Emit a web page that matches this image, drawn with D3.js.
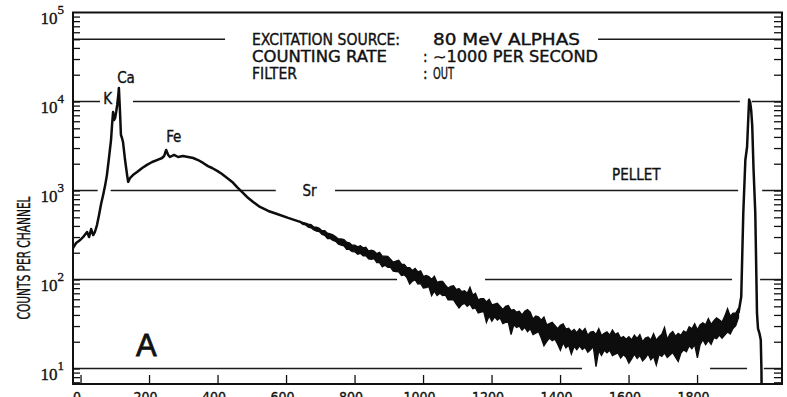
<!DOCTYPE html>
<html>
<head>
<meta charset="utf-8">
<script src="https://cdn.jsdelivr.net/npm/d3@7/dist/d3.min.js"></script>
<style>
  html, body { margin: 0; padding: 0; background: #fff; }
  svg { display: block; }
  text { font-family: 'DejaVu Sans Condensed', 'DejaVu Sans', sans-serif; font-stretch: condensed; fill: #111; stroke: #111; stroke-width: 0.35px; }
</style>
</head>
<body>
<svg id="chart" width="787" height="397"></svg>
<script>
// ---- Spectrum data: channel number and counts per channel ----
// Low-energy region: K and Ca lines, Fe hump, down to the start of the noisy continuum
const lowChannels = [-22, -13, -1, 10, 19, 25, 31, 37, 42, 48, 54, 60, 66, 72, 77, 83, 89, 92, 95, 98,
  101, 104, 107, 110, 112, 115, 118, 121, 124, 130, 136, 139, 145, 153, 165, 180, 194, 209, 223, 238,
  244, 250, 256, 261, 273, 285, 299, 314, 329, 343, 358, 372, 384, 399, 413, 428, 443, 457, 472, 486,
  504, 524, 548, 574, 606, 641];
const lowCounts = [226, 257, 278, 308, 342, 300, 369, 316, 342, 409, 530, 706, 890, 1150, 1490, 2320, 3690, 5440, 7620, 6200,
  6530, 7620, 9140, 11530, 14200, 8020, 4210, 3890, 3510, 2200, 1490, 1250, 1390, 1490, 1610, 1790, 1940, 2090, 2200, 2320,
  2440, 2850, 2510, 2380, 2510, 2380, 2440, 2380, 2320, 2200, 2040, 1880, 1790, 1660, 1530, 1380, 1250, 1090, 961, 846,
  743, 653, 589, 545, 492, 444];

// Noisy continuum: upper and lower edge of the trace, every 8 channels from channel 641
const continuumFirstChannel = 641;
const continuumChannelStep = 8;
const continuumHigh = [
  449, 438, 431, 420, 413, 389, 388, 377, 354, 353,
  332, 325, 317, 303, 286, 286, 281, 263, 258, 243,
  243, 233, 240, 227, 231, 209, 214, 209, 195, 202,
  183, 183, 182, 169, 157, 161, 165, 149, 148, 136,
  136, 126, 133, 122, 125, 108, 111, 108, 100, 109,
  93, 95, 95, 87, 80, 84, 85, 77, 79, 73,
  75, 70, 82, 67, 70, 59, 61, 61, 56, 60,
  52, 53, 54, 50, 46, 50, 51, 45, 46, 43,
  44, 40, 44, 46, 43, 36, 39, 38, 35, 38,
  31, 32, 33, 30.5, 28, 30.6, 31.8, 27.7, 28.4, 25.9,
  27.5, 25.3, 28, 25.9, 28.2, 23.7, 25.7, 26.1, 24.1, 28.1,
  23.5, 24.9, 25.8, 23.7, 27, 24.2, 25.2, 22, 22.9, 21.3,
  22.8, 21, 23.7, 21.8, 24.1, 20, 22, 22.6, 20.9, 24.7,
  20.8, 22.8, 24.3, 29, 21.3, 24.5, 26, 23.1, 24.9, 23.7,
  26.4, 25.2, 29.5, 28, 31.9, 27.3, 31.1, 32.7, 31, 36.4,
  31.4, 34.5, 37.1, 35.2, 33.4, 38.8, 47, 38.7, 41.8, 42,
  47.8];
const continuumLow = [
  439, 417, 411, 388, 381, 361, 349, 345, 320, 313,
  289, 290, 275, 268, 249, 243, 239, 218, 218, 206,
  205, 192, 197, 185, 186, 171, 169, 172, 155, 155,
  139, 145, 137, 137, 124, 123, 122, 111, 113, 105,
  89, 96, 99, 89, 90, 80, 81, 83, 66, 74,
  66, 70, 66, 67, 59, 59, 59, 53, 48, 52,
  54, 50, 53, 47, 48, 42, 43, 44, 33, 39,
  34, 38, 35, 37, 32, 33, 33, 24, 31, 29,
  30, 27, 29, 26, 28, 24, 25, 26, 22, 18,
  20, 22, 20.5, 21.4, 18.8, 16, 19.5, 17, 18.2, 14.5,
  17.7, 16.3, 18, 16.3, 17.3, 15.2, 16.2, 17.6, 10.5, 15.9,
  14, 16, 15, 16, 14, 14.5, 15, 13.1, 14.3, 13.4,
  11.5, 12.8, 14.5, 13, 14, 12.2, 13.1, 14.6, 12.5, 13.6,
  10.9, 14.3, 13.7, 15, 13.3, 14.2, 15.1, 13.4, 12, 14.9,
  16.2, 15.4, 18, 16.7, 18.5, 13.2, 18.5, 21.1, 18.5, 20.7,
  18.7, 22.2, 21.6, 23.7, 21.9, 23.8, 25.7, 24.4, 28.2, 30.3,
  37.4];

// Pellet peak
const pelletChannels = [1921, 1929, 1935, 1941, 1946, 1950, 1952, 1955, 1958, 1961, 1965, 1970, 1975, 1978, 1982, 1986, 1988, 1990];
const pelletCounts = [42, 64, 558, 2200, 3080, 7050, 10500, 9800, 8000, 5440, 1700, 558, 42, 28, 25, 21, 9.6, 1];

// Axis ticks
const channelTicks = [0, 200, 400, 600, 800, 1000, 1200, 1400, 1600, 1800];
const decadeTicks = [1e1, 1e2, 1e3, 1e4, 1e5];
const decadeExponents = ["1", "2", "3", "4", "5"];

// Horizontal reference rules: level and the channel spans they are drawn over
const ruleLevels = [5e4, 1e4, 1e3, 1e2, 1e1];
const ruleSpans = [
  [[-22, 422], [1511, 2048]],
  [[-22, 57], [153, 1925], [1960, 2048]],
  [[-22, 50], [88, 570], [743, 1920], [1990, 2048]],
  [[-22, 924], [1181, 1902], [1984, 2048]],
  [[-22, 1464], [1838, 1946], [1995, 2048]]
];

// Annotations
const headerRows = [
  { key: "EXCITATION SOURCE:", sep: "", value: "80 MeV ALPHAS" },
  { key: "COUNTING RATE", sep: ":", value: "\u223C1000  PER SECOND" },
  { key: "FILTER", sep: ":", value: "OUT" }
];
const peakLabels = [
  { text: "K", ch: 66, counts: 9300 },
  { text: "Ca", ch: 107, counts: 16000 },
  { text: "Fe", ch: 250, counts: 3500 },
  { text: "Sr", ch: 648, counts: 870 },
  { text: "PELLET", ch: 1552, counts: 1300 }
];

// ---- Build series ----
const lowSeries = lowChannels.map((c, i) => ({ ch: c, counts: lowCounts[i] }));
const continuumBand = continuumHigh.map((h, i) => ({
  ch: continuumFirstChannel + i * continuumChannelStep, high: h, low: continuumLow[i]
}));
const pelletSeries = pelletChannels.map((c, i) => ({ ch: c, counts: pelletCounts[i] }));

// ---- Layout ----
const plot = { left: 73, right: 782, top: 12.5, bottom: 384 };
const svg = d3.select("#chart");

const x = d3.scaleLinear().domain([-22, 2048]).range([plot.left, plot.right]);
const y = d3.scaleLog().domain([6.7, 1e5]).range([plot.bottom, plot.top]);

svg.append("defs").append("clipPath").attr("id", "plotClip")
  .append("rect")
  .attr("x", plot.left).attr("y", plot.top)
  .attr("width", plot.right - plot.left).attr("height", plot.bottom - plot.top);

// Horizontal rules
const rules = svg.append("g").attr("class", "rules");
ruleLevels.forEach((lvl, i) => {
  ruleSpans[i].forEach(span => {
    rules.append("line")
      .attr("x1", x(span[0])).attr("x2", x(span[1]))
      .attr("y1", y(lvl)).attr("y2", y(lvl))
      .attr("stroke", "#1a1a1a").attr("stroke-width", 1.5);
  });
});

// Minor tick values for the log axis
const logTicks = [];
for (let e = 0; e <= 4; e++) {
  for (let k = 1; k <= 9; k++) {
    const v = k * Math.pow(10, e);
    if (v >= 6.7 && v <= 1e5) logTicks.push(v);
  }
}

// Left and right inward ticks
svg.append("g")
  .attr("transform", `translate(${plot.left},0)`)
  .call(d3.axisLeft(y).tickValues(logTicks).tickSizeInner(-7).tickSizeOuter(0).tickFormat(""))
  .call(g => g.select(".domain").remove())
  .selectAll("line").attr("stroke", "#111").attr("stroke-width", 1.3);

svg.append("g")
  .attr("transform", `translate(${plot.right},0)`)
  .call(d3.axisRight(y).tickValues(logTicks).tickSizeInner(-8).tickSizeOuter(0).tickFormat(""))
  .call(g => g.select(".domain").remove())
  .selectAll("line").attr("stroke", "#111").attr("stroke-width", 1.3);

// Decade labels 10^n
const yLabels = svg.append("g").attr("class", "y-labels");
decadeTicks.forEach((v, i) => {
  const t = yLabels.append("text")
    .attr("x", 64)
    .attr("y", y(v) + 11)
    .attr("text-anchor", "end")
    .style("font-family", "'Liberation Serif', serif")
    .style("font-size", "17px");
  t.append("tspan").text("10");
  t.append("tspan").attr("dy", -10).style("font-size", "13px").text(decadeExponents[i]);
});

// Bottom axis: inward ticks, labels beneath
const xAxis = svg.append("g")
  .attr("transform", `translate(0,${plot.bottom})`)
  .call(d3.axisBottom(x).tickValues(channelTicks).tickFormat(d3.format("d"))
    .tickSizeInner(-9).tickSizeOuter(0).tickPadding(8))
  .call(g => g.select(".domain").remove());
xAxis.selectAll("line").attr("stroke", "#111").attr("stroke-width", 1.3);
xAxis.selectAll("text")
  .attr("dx", -4)
  .style("font-family", "'DejaVu Sans Condensed', 'DejaVu Sans', sans-serif")
  .style("font-size", "14px")
  .attr("fill", "#111");

// Spectrum trace
const traceLayer = svg.append("g").attr("clip-path", "url(#plotClip)");
const line = d3.line().x(d => x(d.ch)).y(d => y(d.counts));
const band = d3.area().x(d => x(d.ch)).y0(d => y(d.low)).y1(d => y(d.high));

traceLayer.append("path")
  .datum(continuumBand)
  .attr("d", band)
  .attr("fill", "#0d0d0d")
  .attr("stroke", "#0d0d0d")
  .attr("stroke-width", 1.3)
  .attr("stroke-linejoin", "miter");

[lowSeries, pelletSeries].forEach(series => {
  traceLayer.append("path")
    .datum(series)
    .attr("d", line)
    .attr("fill", "none")
    .attr("stroke", "#0d0d0d")
    .attr("stroke-width", 2.5)
    .attr("stroke-linejoin", "round");
});

// Frame
svg.append("rect")
  .attr("x", plot.left).attr("y", plot.top)
  .attr("width", plot.right - plot.left).attr("height", plot.bottom - plot.top)
  .attr("fill", "none").attr("stroke", "#111").attr("stroke-width", 2);

// Header block
const header = svg.append("g").attr("class", "header").style("font-size", "15px");
const headerKeyX = 252, headerSepX = 423, headerValX = 433;
const rowBaselines = [45, 62, 79];
const keyWidths = [148, 135, 45];
const valWidths = [147, 165, 21];
headerRows.forEach((r, i) => {
  header.append("text").attr("x", headerKeyX).attr("y", rowBaselines[i])
    .attr("textLength", keyWidths[i]).attr("lengthAdjust", "spacingAndGlyphs").text(r.key);
  if (r.sep) header.append("text").attr("x", headerSepX).attr("y", rowBaselines[i]).text(r.sep);
  header.append("text").attr("x", headerValX).attr("y", rowBaselines[i])
    .attr("textLength", valWidths[i]).attr("lengthAdjust", "spacingAndGlyphs").text(r.value);
});

// Peak labels
svg.append("g").selectAll("text")
  .data(peakLabels).join("text")
  .attr("x", d => x(d.ch)).attr("y", d => y(d.counts))
  .style("font-size", "15px")
  .text(d => d.text);

// Panel letter
svg.append("text")
  .attr("x", 136).attr("y", 356)
  .style("font-family", "'Liberation Sans', Arial, sans-serif")
  .style("font-size", "31px")
  .style("stroke-width", "0.8px")
  .text("A");

// Y axis title
svg.append("text")
  .attr("transform", "translate(30,258) rotate(-90)")
  .attr("text-anchor", "middle")
  .attr("textLength", 123).attr("lengthAdjust", "spacingAndGlyphs")
  .style("font-size", "17px")
  .text("COUNTS PER CHANNEL");
</script>
</body>
</html>
